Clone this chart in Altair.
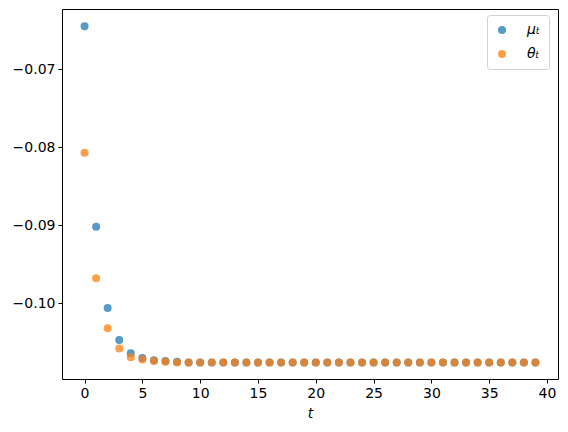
import altair as alt
import pandas as pd

t = list(range(40))
mu = [-0.0645, -0.0902, -0.1006, -0.1047, -0.1064, -0.1070, -0.1073, -0.1074, -0.1075] + [-0.1076] * 31
theta = [-0.0807, -0.0968, -0.1032, -0.1058, -0.1069, -0.1072, -0.1074, -0.1075] + [-0.1076] * 32
labels = ["μₜ", "θₜ"]
colors = ["#1f77b4", "#ff7f0e"]

rows = []
for i, v in zip(t, mu):
    rows.append({"t": i, "value": v, "series": labels[0], "ord": 0})
for i, v in zip(t, theta):
    rows.append({"t": i, "value": v, "series": labels[1], "ord": 1})
df = pd.DataFrame(rows)

chart = alt.Chart(df).mark_point(filled=True, size=64, opacity=0.75).encode(
    x=alt.X("t:Q", scale=alt.Scale(domain=[-1.95, 40.95], nice=False, zero=False),
            axis=alt.Axis(values=list(range(0, 41, 5)), title="t", grid=False)),
    y=alt.Y("value:Q", scale=alt.Scale(domain=[-0.1097, -0.0623], nice=False, zero=False),
            axis=alt.Axis(values=[-0.10, -0.09, -0.08, -0.07], format=".2f", title=None, grid=False)),
    color=alt.Color("series:N", scale=alt.Scale(domain=labels, range=colors),
                    legend=alt.Legend(title=None, orient="none", legendX=425, legendY=6,
                                      padding=8, strokeColor="#d0d0d0", fillColor="white",
                                      cornerRadius=3, symbolSize=64, symbolOpacity=0.75,
                                      labelOffset=18, rowPadding=10, labelFontSize=14,
                                      labelFont="DejaVu Sans", labelFontStyle="italic",
                                      labelColor="black")),
    order=alt.Order("ord:Q"),
).properties(
    width=496, height=370,
    autosize=alt.AutoSizeParams(type="none"),
    padding={"left": 54, "top": 1, "right": 2, "bottom": 45},
).configure_view(
    stroke="black", strokeWidth=1
).configure_axis(
    domain=False, tickColor="black", tickSize=4, labelColor="black",
    labelFont="DejaVu Sans", labelFontSize=14, labelPadding=3,
    titleFont="DejaVu Sans", titleFontSize=14, titleFontStyle="italic",
    titleFontWeight="normal", titleColor="black",
).configure_axisX(titlePadding=6)

chart.save("out.html", embed_options={"renderer": "svg", "actions": False})
